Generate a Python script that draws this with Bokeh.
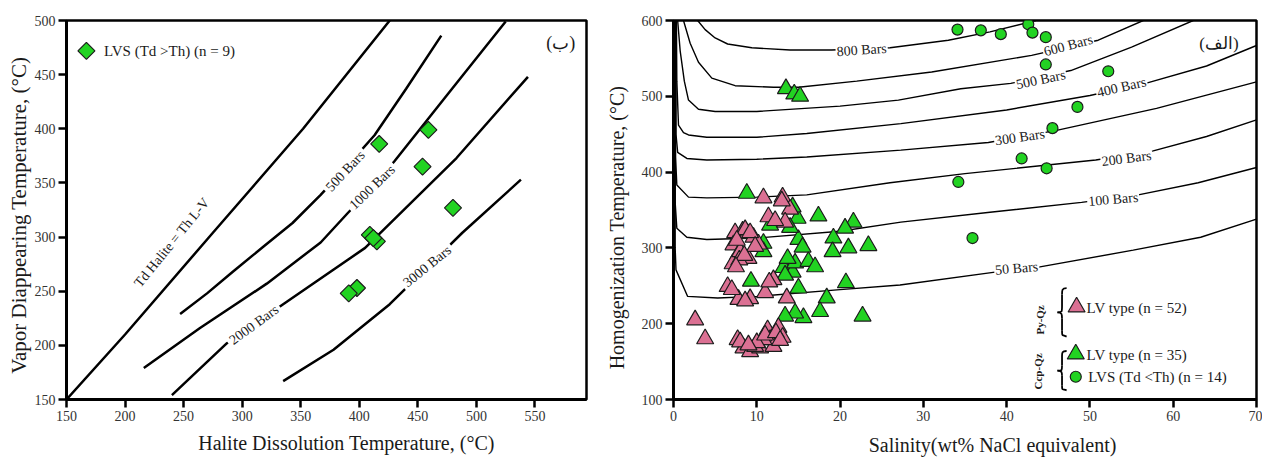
import numpy as np
from bokeh.plotting import figure
from bokeh.layouts import row
from bokeh.models import Range1d, FixedTicker
from bokeh.core.properties import value
from bokeh.embed import file_html
from bokeh.resources import INLINE

SERIF = "Liberation Serif"
GREEN = "#22D322"
PINK = "#DB7093"
EDGE = "#1c1c1c"
TXT = "#1a1a1a"
NB = "\u00a0"

# ---------------- Left panel (ب) ----------------
left_x_ticks = [150, 200, 250, 300, 350, 400, 450, 500, 550]
left_y_ticks = [150, 200, 250, 300, 350, 400, 450, 500]

lvs_td_gt_th_x = [417, 459, 454, 480, 409, 415, 398, 391, 412]
lvs_td_gt_th_y = [386, 399, 365, 327, 302, 296, 253, 248, 299]

td_halite_x = [150, 200, 275, 352, 426]
td_halite_y = [150, 210, 304, 400, 500]
iso500_x = [247, 270, 292, 318, 343, 367, 390, 413, 440, 470]
iso500_y = [229, 248, 268, 291, 313, 339, 366, 394, 437, 486]
iso1000_x = [216, 264, 321, 367, 390, 411, 430, 477, 525]
iso1000_y = [179, 216, 257, 295, 322, 346, 370, 434, 499]
iso2000_x = [240, 287, 311, 335, 405, 483, 544]
iso2000_y = [154, 202, 220, 238, 290, 373, 448]
iso3000_x = [335, 378, 426, 458, 488, 538]
iso3000_y = [167, 196, 238, 272, 304, 353]

left_label_text = ["500 Bars", "1000 Bars", "2000 Bars", "3000 Bars"]
left_label_x = [388, 411, 310, 458]
left_label_y = [361, 346, 219, 273]
left_label_angle = [47, 44, 36, 39]

# ---------------- Right panel (الف) ----------------
right_x_ticks = [0, 10, 20, 30, 40, 50, 60, 70]
right_y_ticks = [100, 200, 300, 400, 500, 600]

bar800_x = [2.9, 3.8, 5.0, 6.5, 9.4, 14, 19, 26, 33, 38, 43.5]
bar800_y = [600, 588, 577, 569, 564, 561, 561, 564, 574, 585, 600]
bar600_x = [1.2, 2.0, 3.0, 4.6, 7.4, 12, 15, 22, 31, 43, 51, 56.4]
bar600_y = [600, 570, 545, 524, 514, 512, 512, 520, 532, 554, 574, 600]
bar500_x = [0.5, 0.8, 1.3, 1.8, 3.0, 5, 10, 20, 27, 34.5, 40.5, 47.7, 55, 62.4]
bar500_y = [600, 560, 520, 495, 483, 480, 480, 487, 495, 510, 517, 534, 565, 600]
bar400_x = [0.35, 0.4, 0.6, 1.2, 1.8, 4, 10, 16, 27.3, 40, 50, 57, 64, 70]
bar400_y = [600, 520, 462, 452, 449, 446, 446, 451, 464, 482, 501, 518, 540, 567]
bar300_x = [0.3, 0.3, 0.5, 1.6, 4, 10, 16, 27.3, 37.8, 46, 58, 70]
bar300_y = [600, 450, 426, 418, 416, 417, 420, 429, 439, 455, 484, 519]
bar200_x = [0.25, 0.25, 0.4, 1.8, 4, 10, 16, 26, 35, 50.7, 57.6, 64, 70]
bar200_y = [600, 420, 383, 367, 366, 367, 370, 386, 398, 416, 428, 447, 469]
bar100_x = [0.2, 0.2, 0.4, 1.6, 4, 10, 20, 27.3, 38, 49, 55.8, 63, 70]
bar100_y = [600, 360, 326, 314, 311, 313, 322, 334, 347, 360, 370, 386, 406]
bar50_x = [0.2, 0.2, 0.3, 1.7, 5.3, 10, 20, 27.2, 38.6, 44, 55.2, 63.3, 70]
bar50_y = [600, 300, 271, 236, 234, 236, 245, 251, 268, 275, 297, 314, 338]

isobar_label_text = ["800 Bars", "600 Bars", "500 Bars", "400 Bars",
                     "300 Bars", "200 Bars", "100 Bars", "50 Bars"]
isobar_label_x = [22.6, 47.4, 44.1, 53.8, 41.6, 54.4, 52.8, 41.2]
isobar_label_y = [561, 567, 522, 512, 446, 418, 364, 273]
isobar_label_angle = [4, 15, 12, 13, 8, 7, 5, 5]

# Ccp-Qz LV type (green triangles, n = 35)
ccp_lv_x = [13.5, 14.5, 15.2, 8.8, 17.4, 21.6, 20.6, 14.9, 14.3, 11.6,
            15.0, 15.5, 19.2, 19.1, 21.0, 23.4, 10.8, 10.8, 9.3, 13.2,
            14.3, 14.6, 13.7, 16.2, 17.0, 13.4, 15.0, 20.7, 18.4, 17.6,
            15.6, 14.6, 13.4, 22.7, 14.0]
ccp_lv_y = [510, 503, 500, 372, 342, 334, 326, 339, 354, 330,
            311, 301, 313, 295, 300, 303, 306, 295, 256, 274,
            268, 280, 286, 282, 275, 264, 247, 254, 234, 216,
            208, 214, 210, 210, 327]

# Py-Qz LV type (pink triangles, n = 52)
py_lv_x = [10.8, 13.1, 14.0, 11.4, 13.4, 7.4, 8.3, 8.9, 9.6, 10.2,
           7.2, 7.8, 9.0, 7.1, 8.0, 7.9, 6.5, 7.8, 9.2, 11.0,
           12.0, 13.6, 2.6, 3.8, 7.7, 8.4, 9.2, 10.4, 11.3, 11.6,
           12.6, 13.1, 12.0, 10.8, 9.8, 8.0, 8.6, 9.2, 7.6, 9.8,
           8.5, 7.5, 12.2, 10.0, 11.0, 12.3, 9.0, 12.8, 8.6, 11.5,
           7.0, 13.0]
py_lv_y = [366, 367, 351, 341, 334, 320, 322, 319, 314, 305,
           304, 292, 286, 279, 295, 284, 249, 232, 233, 241,
           258, 234, 205, 180, 179, 168, 163, 168, 192, 179,
           195, 182, 170, 179, 170, 176, 324, 320, 310, 302,
           290, 275, 336, 175, 185, 188, 172, 178, 230, 255,
           245, 362]

# Ccp-Qz LVS (Td < Th) (green circles, n = 14)
ccp_lvs_x = [34.1, 36.9, 39.3, 42.6, 43.1, 44.7, 44.7, 52.2, 48.5, 45.5,
             41.8, 44.8, 34.2, 35.9]
ccp_lvs_y = [588, 587, 582, 595, 584, 578, 542, 533, 486, 458,
             418, 405, 387, 313]


def style(p, xticks, yticks, xlabel, ylabel, xsize, ysize, xstand, ystand):
    p.grid.visible = False
    p.outline_line_color = "black"
    p.outline_line_width = 2.5
    p.background_fill_color = "white"
    p.border_fill_color = "white"
    p.xaxis.ticker = FixedTicker(ticks=xticks)
    p.yaxis.ticker = FixedTicker(ticks=yticks)
    p.xaxis.axis_label = xlabel
    p.yaxis.axis_label = ylabel
    p.xaxis.axis_label_text_font_size = xsize
    p.yaxis.axis_label_text_font_size = ysize
    p.xaxis.axis_label_standoff = xstand
    p.yaxis.axis_label_standoff = ystand
    for ax in (p.xaxis[0], p.yaxis[0]):
        ax.axis_line_width = 3
        ax.axis_line_color = "black"
        ax.major_tick_line_width = 2.5
        ax.major_tick_line_color = "black"
        ax.major_tick_out = 8
        ax.major_tick_in = 0
        ax.minor_tick_line_color = None
        ax.major_label_text_font = SERIF
        ax.major_label_text_font_size = "14px"
        ax.major_label_text_color = "#333333"
        ax.major_label_standoff = 3
        ax.axis_label_text_font = SERIF
        ax.axis_label_text_font_style = "normal"
        ax.axis_label_text_color = TXT


def brace(p, x_tip, x_right, y_top, y_bot):
    xm = (x_tip + x_right) / 2.0
    ym = (y_top + y_bot) / 2.0
    d = (y_top - y_bot) * 0.13
    kw = dict(line_color="black", line_width=1.8)
    p.bezier(x0=[x_right, xm, x_tip, xm], y0=[y_top, ym + d, ym, y_bot + d],
             x1=[xm, x_tip, xm, x_right], y1=[y_top - d, ym, ym - d, y_bot],
             cx0=[xm, xm, xm, xm], cy0=[y_top, ym, ym, y_bot],
             cx1=[xm, xm, xm, xm], cy1=[y_top - d * 0.3, ym, ym - d * 0.3, y_bot + d * 0.3],
             **kw)
    p.segment(x0=[xm, xm], y0=[y_top - d, ym - d], x1=[xm, xm], y1=[ym + d, y_bot + d], **kw)


# ---------- left figure ----------
p1 = figure(width=596, height=458, x_range=Range1d(150, 594), y_range=Range1d(150, 500),
            output_backend="svg", toolbar_location=None, tools="",
            min_border_left=66, min_border_right=10, min_border_top=19, min_border_bottom=54)
style(p1, left_x_ticks, left_y_ticks,
      NB * 8 + "Halite Dissolution Temperature, (°C)",
      "Vapor Diappearing Temperature, (°C)" + NB * 2,
      "20px", "21px", 8, 1)

for xs, ys in [(td_halite_x, td_halite_y), (iso500_x, iso500_y), (iso1000_x, iso1000_y),
               (iso2000_x, iso2000_y), (iso3000_x, iso3000_y)]:
    p1.line(xs, ys, line_color="black", line_width=2.5)

p1.text(x=left_label_x, y=left_label_y, text=left_label_text,
        angle=[np.deg2rad(a) for a in left_label_angle],
        text_font=value(SERIF), text_font_size=value("14px"), text_color=TXT,
        text_align="center", text_baseline="middle",
        background_fill_color="white", padding=3)
p1.text(x=[240], y=[295], text=["Td Halite = Th L-V"], angle=np.deg2rad(51),
        text_font=value(SERIF), text_font_size=value("14px"), text_color=TXT,
        text_align="center", text_baseline="middle")
p1.text(x=[572], y=[479], text=["(ب)"], text_font=value(SERIF),
        text_font_size=value("18px"), text_color=TXT,
        text_align="center", text_baseline="middle")

p1.scatter(lvs_td_gt_th_x, lvs_td_gt_th_y, marker="square", size=12, angle=np.pi / 4,
           fill_color=GREEN, line_color=EDGE, line_width=1.2)
# legend
p1.scatter([167], [472], marker="square", size=12, angle=np.pi / 4,
           fill_color=GREEN, line_color=EDGE, line_width=1.2)
p1.text(x=[182], y=[472], text=["LVS (Td >Th) (n = 9)"], text_font=value(SERIF),
        text_font_size=value("15px"), text_color=TXT, text_baseline="middle")

# ---------- right figure ----------
p2 = figure(width=666, height=458, x_range=Range1d(0, 70), y_range=Range1d(100, 600),
            output_backend="svg", toolbar_location=None, tools="",
            min_border_left=77, min_border_right=6, min_border_top=20, min_border_bottom=58)
style(p2, right_x_ticks, right_y_ticks,
      NB * 11 + "Salinity(wt% NaCl equivalent)",
      "Homogenization Temperature, (°C)" + NB * 7,
      "20px", "20px", 10, 11)

for xs, ys in [(bar800_x, bar800_y), (bar600_x, bar600_y), (bar500_x, bar500_y),
               (bar400_x, bar400_y), (bar300_x, bar300_y), (bar200_x, bar200_y),
               (bar100_x, bar100_y), (bar50_x, bar50_y)]:
    p2.line(xs, ys, line_color="black", line_width=1.4)

p2.text(x=isobar_label_x, y=isobar_label_y, text=isobar_label_text,
        angle=[np.deg2rad(a) for a in isobar_label_angle],
        text_font=value(SERIF), text_font_size=value("14px"), text_color=TXT,
        text_align="center", text_baseline="middle",
        background_fill_color="white", padding=1)
p2.text(x=[65.5], y=[570], text=["(الف)"], text_font=value(SERIF),
        text_font_size=value("17px"), text_color=TXT,
        text_align="center", text_baseline="middle")

p2.scatter(ccp_lv_x, ccp_lv_y, marker="triangle", size=17,
           fill_color=GREEN, line_color=EDGE, line_width=1.2)
p2.scatter(py_lv_x, py_lv_y, marker="triangle", size=17,
           fill_color=PINK, line_color=EDGE, line_width=1.2)
p2.scatter(ccp_lvs_x, ccp_lvs_y, marker="circle", size=11,
           fill_color=GREEN, line_color=EDGE, line_width=1.2)

# legend (drawn inside the plot)
p2.scatter([48.4], [222], marker="triangle", size=17, fill_color=PINK, line_color=EDGE, line_width=1.2)
p2.scatter([48.3], [160], marker="triangle", size=17, fill_color=GREEN, line_color=EDGE, line_width=1.2)
p2.scatter([48.3], [130], marker="circle", size=11, fill_color=GREEN, line_color=EDGE, line_width=1.2)
p2.text(x=[49.6, 49.6, 49.8], y=[221, 159, 130],
        text=["LV type (n = 52)", "LV type (n = 35)", "LVS (Td <Th) (n = 14)"],
        text_font=value(SERIF), text_font_size=value("15px"), text_color=TXT,
        text_baseline="middle")
p2.text(x=[44.0, 43.8], y=[205, 137], text=["Py-Qz", "Ccp-Qz"], angle=np.pi / 2,
        text_font=value(SERIF), text_font_size=value("11px"), text_font_style="bold",
        text_color=TXT, text_align="center", text_baseline="middle")
brace(p2, 46.1, 47.2, 247, 183)
brace(p2, 46.1, 47.2, 164, 112)

layout = row(p1, p2)
open("out.html", "w").write(file_html(layout, INLINE))
